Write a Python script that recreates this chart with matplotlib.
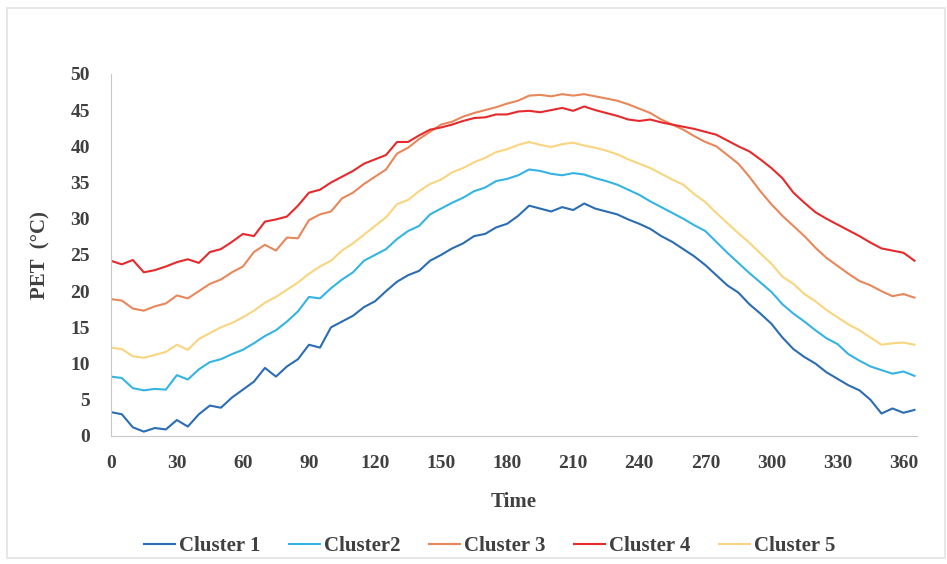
import numpy as np
import matplotlib
matplotlib.use("Agg")
import matplotlib.pyplot as plt
from matplotlib.patches import Rectangle

plt.rcParams["font.family"] = ["Liberation Serif", "DejaVu Serif"]
plt.rcParams["font.weight"] = "bold"

days = list(range(0, 366, 5))

cluster1 = [3.3, 3.0, 1.2, 0.6, 1.1, 0.9, 2.2, 1.3, 3.0, 4.2, 3.9, 5.3, 6.4, 7.5, 9.4, 8.2,
            9.6, 10.6, 12.6, 12.2, 15.0, 15.8, 16.6, 17.8, 18.6, 20.0, 21.3, 22.2, 22.8, 24.2,
            25.0, 25.9, 26.6, 27.6, 27.9, 28.8, 29.3, 30.4, 31.8, 31.4, 31.0, 31.6, 31.2, 32.1,
            31.4, 31.0, 30.6, 29.9, 29.3, 28.6, 27.6, 26.8, 25.8, 24.8, 23.6, 22.2, 20.8, 19.8,
            18.2, 16.9, 15.5, 13.6, 12.0, 10.9, 10.0, 8.8, 7.9, 7.0, 6.3, 5.0, 3.1, 3.8, 3.2, 3.6]
cluster2 = [8.2, 8.0, 6.6, 6.3, 6.5, 6.4, 8.4, 7.8, 9.2, 10.2, 10.6, 11.3, 11.9, 12.8, 13.8, 14.6,
            15.8, 17.2, 19.2, 19.0, 20.4, 21.6, 22.6, 24.2, 25.0, 25.8, 27.2, 28.3, 29.0, 30.6,
            31.4, 32.2, 32.9, 33.8, 34.3, 35.2, 35.5, 36.0, 36.8, 36.6, 36.2, 36.0, 36.3, 36.1,
            35.6, 35.2, 34.7, 34.0, 33.3, 32.4, 31.6, 30.8, 30.0, 29.1, 28.3, 26.8, 25.3, 23.9,
            22.5, 21.2, 19.9, 18.2, 16.9, 15.8, 14.6, 13.5, 12.7, 11.3, 10.4, 9.6, 9.1, 8.6, 8.9, 8.3]
cluster3 = [18.9, 18.7, 17.6, 17.3, 17.9, 18.3, 19.4, 19.0, 20.0, 21.0, 21.6, 22.6, 23.4, 25.4, 26.4, 25.6,
            27.4, 27.3, 29.8, 30.6, 31.0, 32.8, 33.6, 34.8, 35.8, 36.8, 39.0, 39.8, 41.0, 42.0,
            43.0, 43.4, 44.1, 44.6, 45.0, 45.4, 45.9, 46.3, 47.0, 47.1, 46.9, 47.2, 47.0, 47.2,
            46.9, 46.6, 46.3, 45.8, 45.2, 44.6, 43.7, 43.0, 42.3, 41.4, 40.6, 40.0, 38.8, 37.6,
            35.8, 33.8, 32.0, 30.4, 29.0, 27.6, 26.0, 24.6, 23.5, 22.4, 21.4, 20.8, 20.0, 19.3, 19.6, 19.1]
cluster4 = [24.2, 23.7, 24.3, 22.6, 22.9, 23.4, 24.0, 24.4, 23.9, 25.4, 25.8, 26.8, 27.9, 27.6, 29.6, 29.9,
            30.3, 31.8, 33.6, 34.0, 35.0, 35.8, 36.6, 37.6, 38.2, 38.8, 40.6, 40.6, 41.5, 42.3,
            42.6, 43.0, 43.5, 43.9, 44.0, 44.4, 44.4, 44.8, 44.9, 44.7, 45.0, 45.3, 44.9, 45.5,
            45.0, 44.6, 44.2, 43.7, 43.5, 43.7, 43.3, 43.0, 42.7, 42.4, 42.0, 41.6, 40.8, 40.0,
            39.3, 38.2, 37.0, 35.6, 33.6, 32.2, 30.9, 30.0, 29.2, 28.4, 27.6, 26.7, 25.9, 25.6, 25.3, 24.2]
cluster5 = [12.2, 12.0, 11.0, 10.8, 11.2, 11.6, 12.6, 11.9, 13.4, 14.2, 15.0, 15.6, 16.4, 17.3, 18.4, 19.2,
            20.2, 21.2, 22.4, 23.4, 24.2, 25.6, 26.6, 27.8, 29.0, 30.2, 32.0, 32.6, 33.8, 34.8,
            35.4, 36.4, 37.0, 37.8, 38.4, 39.2, 39.6, 40.2, 40.6, 40.2, 39.9, 40.3, 40.5, 40.1,
            39.8, 39.4, 38.9, 38.2, 37.6, 37.0, 36.2, 35.4, 34.7, 33.4, 32.3, 30.8, 29.4, 28.0,
            26.7, 25.2, 23.8, 22.0, 21.0, 19.6, 18.6, 17.4, 16.4, 15.4, 14.6, 13.6, 12.6, 12.8, 12.9, 12.6]

labels = ["Cluster 1", "Cluster2", "Cluster 3", "Cluster 4", "Cluster 5"]
colors = ["#2a6db3", "#35b4e4", "#e8875a", "#e62a2c", "#f8d57e"]
series = [cluster1, cluster2, cluster3, cluster4, cluster5]

fig = plt.figure(figsize=(9.47, 5.64), dpi=100)
ax = fig.add_axes([0.117, 0.227, 0.851, 0.642])

for vals, lab, col in zip(series, labels, colors):
    ax.plot(days, vals, color=col, lw=1.5, label=lab)

ax.set_xlim(0, 366)
ax.set_ylim(0, 50)
ax.set_xticks(range(0, 361, 30))
ax.set_yticks(range(0, 51, 5))
ax.tick_params(length=0, labelsize=14, colors="#404040")
ax.tick_params(axis="x", pad=14)
ax.tick_params(axis="y", pad=15)
for s in ["top", "right"]:
    ax.spines[s].set_visible(False)
for s in ["left", "bottom"]:
    ax.spines[s].set_color("#c8c8c8")

ax.set_xlabel("Time", fontsize=15, fontweight="bold", color="#404040", labelpad=14)
ax.set_ylabel("PET  (°C)", fontsize=15, fontweight="bold", color="#404040", labelpad=14)

ax.legend(loc="upper center", bbox_to_anchor=(0.47, -0.225), ncol=5, frameon=False,
          fontsize=15, handlelength=1.5, handletextpad=0.15, columnspacing=1.4,
          labelcolor="#404040")

# light outer frame like the exported chart area
fig.patches.append(Rectangle((0.0074, 0.011), 0.99, 0.975, transform=fig.transFigure,
                             fill=False, edgecolor="#e3e3e3", lw=1.2))

fig.savefig("out.png", dpi=100)
